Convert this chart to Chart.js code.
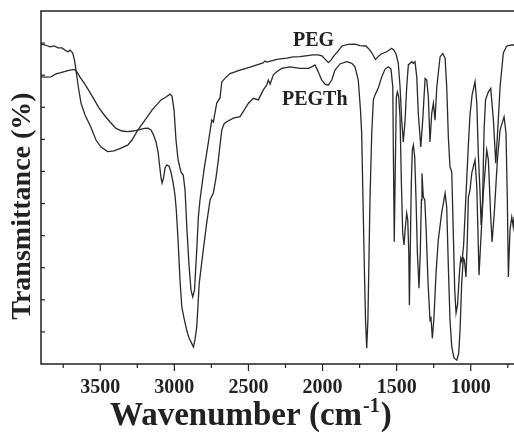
<!DOCTYPE html>
<html>
<head>
<meta charset="utf-8">
<script src="https://cdn.jsdelivr.net/npm/chart.js@4"></script>
<style>
  body { margin: 0; background: #fff; }
  #wrap { width: 514px; height: 434px; }
</style>
</head>
<body>
<div id="wrap"><canvas id="grafico" width="514" height="434"></canvas></div>
<script>
// wavenumber (cm-1) and transmittance (arb.)
var pegWn = [3900,3873,3839,3812,3785,3758,3738,3718,3704,3686,3674,3664,3647,3630,3603,3563,3529,3495,3450,3407,
  3360,3315,3286,3247,3198,3151,3090,3056,3029,3016,3002,2989,2975,2955,2940,2928,2915,2901,2888,2876,
  2864,2849,2838,2827,2800,2771,2748,2737,2714,2692,2680,2651,2624,2557,2489,2442,2402,2388,2375,2309,
  2242,2199,2152,2064,2031,2004,1983,1961,1943,1923,1896,1869,1826,1781,1747,1707,1680,1659,1643,1626,
  1605,1567,1533,1518,1504,1489,1477,1466,1455,1443,1432,1421,1398,1387,1376,1364,1354,1337,1324,1308,
  1297,1286,1275,1263,1252,1241,1229,1207,1189,1173,1162,1151,1140,1128,1119,1108,1099,1089,1075,1067,
  1059,1048,1032,1016,1005,991,971,959,949,937,930,920,910,900,881,865,847,831,814,802,780,757,723,708];
var pegT = [99.7,99.4,98.8,99.1,98.5,98.5,97.8,97.3,97.8,96.9,94.7,91.6,86.0,81.3,77.6,73.8,69.8,67.6,66.2,66.4,
  67.3,68.2,69.8,72.9,76.0,79.1,82.3,83.2,84.1,83.5,79.1,69.8,63.6,59.8,58.9,54.2,41.8,30.8,23.1,20.9,
  23.1,35.5,45.8,51.1,60.5,68.9,76.0,75.4,81.3,82.9,87.9,89.4,90.5,91.6,92.5,93.2,93.8,94.4,94.1,94.9,
  95.3,95.7,95.8,96.3,96.3,96.0,95.0,93.9,94.7,96.0,97.5,99.1,99.6,99.7,99.2,99.1,97.8,96.3,94.9,95.7,
  96.6,97.3,98.4,97.8,96.6,93.8,86.3,76.0,69.2,76.0,86.3,93.2,94.2,93.7,94.2,89.4,78.2,67.6,76.0,89.0,
  88.5,83.2,69.2,78.2,81.3,76.0,86.3,95.7,96.8,95.3,86.3,70.7,61.4,59.8,43.3,23.1,15.9,18.4,29.3,33.0,
  31.8,37.1,52.7,68.2,77.6,83.8,88.0,81.3,65.7,53.3,43.3,51.1,72.9,82.3,84.8,85.9,76.0,62.6,76.0,86.3,96.9,99.1,99.4,99.4];

var pegthWn = [3900,3866,3833,3799,3765,3731,3704,3675,3657,3637,3608,3576,3540,3509,3473,3434,3394,3353,3315,3279,
  3247,3203,3178,3158,3141,3124,3110,3100,3090,3083,3073,3063,3052,3036,3023,3009,2996,2987,2975,2962,
  2950,2935,2917,2901,2884,2871,2861,2849,2832,2805,2782,2759,2737,2719,2703,2692,2680,2665,2647,2602,
  2557,2501,2467,2433,2400,2377,2366,2354,2332,2309,2276,2220,2152,2096,2073,2051,2029,2006,1983,1961,
  1938,1916,1882,1837,1803,1781,1759,1744,1736,1727,1718,1710,1702,1694,1688,1680,1668,1657,1646,1624,
  1601,1578,1556,1538,1526,1521,1516,1509,1502,1495,1486,1477,1468,1459,1450,1441,1432,1425,1418,1414,
  1408,1401,1394,1387,1378,1369,1360,1349,1340,1333,1329,1320,1310,1300,1288,1275,1268,1259,1248,1234,
  1219,1196,1173,1162,1151,1140,1128,1113,1094,1081,1072,1061,1050,1043,1032,1023,1016,1005,993,971,
  959,944,932,915,892,881,865,856,841,820,802,775,762,753,746,735,723,713,708];
var pegthT = [89.5,89.4,89.5,90.4,90.8,91.3,91.6,91.8,91.0,89.4,87.5,85.1,82.3,79.8,77.6,75.4,73.4,72.6,72.4,72.6,
  72.9,73.4,73.5,72.9,71.4,69.2,66.1,62.0,58.0,56.4,58.0,61.1,62.0,61.7,59.8,56.7,52.7,48.0,38.6,26.2,
  17.9,14.3,10.6,8.1,6.5,5.3,7.5,11.5,25.2,35.5,43.9,51.1,53.3,58.0,63.6,68.2,72.9,74.8,75.5,76.6,
  77.1,81.2,82.8,82.3,85.4,86.9,88.5,87.2,90.1,91.1,92.1,92.6,92.1,92.1,92.6,93.2,91.1,88.5,87.2,86.9,
  88.5,91.6,93.5,94.2,93.7,92.6,88.5,79.1,72.0,51.1,30.2,13.7,4.9,13.7,29.3,51.1,72.0,82.3,83.8,86.0,
  89.4,91.9,92.6,91.9,86.3,61.4,38.1,61.4,83.2,84.8,83.2,77.0,56.4,40.8,37.1,42.7,47.0,44.9,34.6,18.4,
  35.5,56.4,66.7,68.2,64.5,51.1,34.6,23.6,35.5,51.1,59.4,52.0,51.1,40.8,25.2,13.7,14.3,8.0,14.6,28.4,
  38.6,47.1,53.2,48.9,30.2,13.7,5.3,1.9,1.2,3.4,10.6,25.2,33.0,32.4,27.1,38.6,52.0,54.2,59.5,63.6,
  55.2,27.7,38.6,53.3,66.7,63.6,45.8,38.0,47.1,63.6,72.9,77.0,72.0,51.1,27.1,41.8,45.8,42.7,45.8];

var xMin = 708, xMax = 3900;
var xLabels = [3500, 3000, 2500, 2000, 1500, 1000];
// curve names and where they sit (wavenumber, transmittance)
var names = ['PEG', 'PEGTh'];
var nameWn = [2199, 2274];
var nameT = [99.1, 80.7];

function pts(wn, t) {
  var out = [];
  for (var i = 0; i < wn.length; i++) out.push({ x: wn[i], y: t[i] });
  return out;
}

var serif = '"Liberation Serif", "Times New Roman", serif';
var ink = '#222';

var marcos = {
  id: 'marcos',
  afterDraw: function(chart) {
    var c = chart.ctx, a = chart.chartArea;
    var sx = chart.scales.x, sy = chart.scales.y;
    c.save();
    c.strokeStyle = ink;
    c.lineWidth = 1.5;
    c.beginPath();
    c.moveTo(a.right + 2, a.top); c.lineTo(a.left, a.top);
    c.lineTo(a.left, a.bottom); c.lineTo(a.right + 2, a.bottom);
    c.stroke();
    c.lineWidth = 1.2;
    // x ticks, long ones every 500
    for (var v = 750; v <= 3750; v += 250) {
      var px = sx.getPixelForValue(v);
      c.beginPath();
      c.moveTo(px, a.bottom);
      c.lineTo(px, a.bottom + (v % 500 === 0 ? 7 : 4));
      c.stroke();
    }
    // y ticks inside
    sy.ticks.forEach(function(t) {
      if (t.value <= sy.min || t.value >= sy.max) return;
      var py = sy.getPixelForValue(t.value);
      c.beginPath();
      c.moveTo(a.left, py); c.lineTo(a.left + 4, py);
      c.stroke();
    });
    c.fillStyle = ink;
    c.textBaseline = 'alphabetic';
    // x tick labels
    c.font = 'bold 20px ' + serif;
    c.textAlign = 'center';
    xLabels.forEach(function(v) {
      c.fillText(String(v), sx.getPixelForValue(v), a.bottom + 29);
    });
    // curve names
    c.font = 'bold 20px ' + serif;
    c.textAlign = 'left';
    for (var i = 0; i < names.length; i++) {
      c.fillText(names[i], sx.getPixelForValue(nameWn[i]), sy.getPixelForValue(nameT[i]));
    }
    // x title with superscript
    var big = 'bold 33px ' + serif, small = 'bold 20px ' + serif;
    var p1 = 'Wavenumber (cm', p2 = '-1', p3 = ')';
    c.font = big; var w1 = c.measureText(p1).width, w3 = c.measureText(p3).width;
    c.font = small; var w2 = c.measureText(p2).width;
    var x0 = 110, base = 425;
    c.font = big; c.fillText(p1, x0, base);
    c.font = small; c.fillText(p2, x0 + w1 + 1, base - 13);
    c.font = big; c.fillText(p3, x0 + w1 + w2 + 2, base);
    // y title
    c.translate(30, 206);
    c.rotate(-Math.PI / 2);
    c.textAlign = 'center';
    c.font = 'bold 28px ' + serif;
    c.fillText('Transmittance (%)', 0, 0);
    c.restore();
  }
};

var ctx = document.getElementById('grafico').getContext('2d');
var grafico = new Chart(ctx, {
  type: 'line',
  data: {
    datasets: [
      { label: 'PEG', data: pts(pegWn, pegT), borderColor: '#2a2a2a', borderWidth: 1.3, pointRadius: 0, tension: 0, fill: false },
      { label: 'PEGTh', data: pts(pegthWn, pegthT), borderColor: '#2a2a2a', borderWidth: 1.3, pointRadius: 0, tension: 0, fill: false }
    ]
  },
  options: {
    responsive: false,
    animation: false,
    layout: { padding: { top: 11, right: 0, left: 0, bottom: 0 } },
    plugins: { legend: { display: false }, tooltip: { enabled: false } },
    scales: {
      x: {
        type: 'linear',
        reverse: true,
        min: xMin,
        max: xMax,
        grid: { display: false },
        border: { display: false },
        afterFit: function(s) { s.height = 70; s.paddingLeft = 0; s.paddingRight = 0; },
        ticks: { stepSize: 250, display: false }
      },
      y: {
        min: 0,
        max: 110,
        grid: { display: false },
        border: { display: false },
        afterFit: function(s) { s.width = 41; s.paddingTop = 0; s.paddingBottom = 0; },
        ticks: { stepSize: 10, display: false }
      }
    }
  },
  plugins: [marcos]
});
</script>
</body>
</html>
